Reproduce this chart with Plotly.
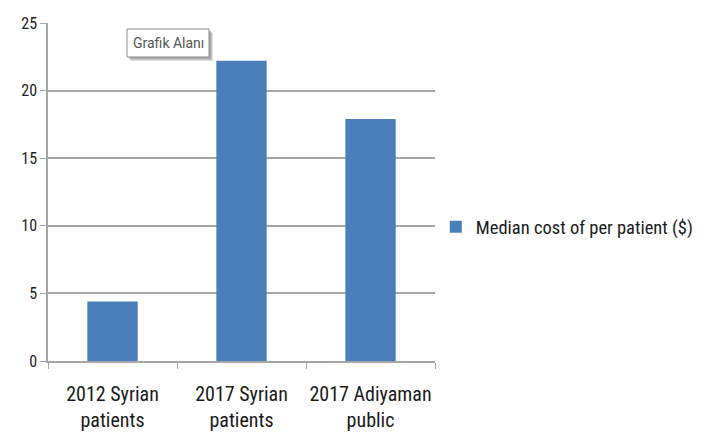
import plotly.graph_objects as go

categories = ["2012 Syrian<br>patients", "2017 Syrian<br>patients", "2017 Adiyaman<br>public"]
values = [4.4, 22.2, 17.9]
series_name = "Median cost of per patient ($)"
y_ticks = [0, 5, 10, 15, 20, 25]

# page body has an 8px margin, so the figure is drawn at (8, 8)
W, H = 701, 424
L, R, T, B = 40, 274, 15, 71
pw, ph = W - L - R, H - T - B

def px(x):
    return (x - L) / pw

def py(y):
    return (H - B - y) / ph

font = "Liberation Sans Narrow, Roboto Condensed, Arial Narrow, sans-serif"
grid = "#a6a6a6"
text = "#1a1a1a"

fig = go.Figure()
fig.add_trace(go.Bar(x=categories, y=values, name=series_name,
                     marker=dict(color="#4a7ebb", line=dict(width=0)), width=0.39))

fig.update_layout(
    width=W, height=H,
    margin=dict(l=L, r=R, t=T, b=B, autoexpand=False),
    paper_bgcolor="white", plot_bgcolor="white",
    font=dict(family=font, color=text),
    showlegend=True,
    legend=dict(x=1.002, xanchor="left", y=0.396, yanchor="middle",
                font=dict(size=18.5, family=font, color=text),
                itemwidth=30),
    xaxis=dict(showline=True, linecolor=grid, linewidth=1.5, ticks="outside",
               tickson="boundaries", ticklen=6, tickcolor=grid, tickangle=0,
               tickfont=dict(size=20, family=font, color=text),
               ticklabelstandoff=14, showgrid=False),
    yaxis=dict(range=[0, 25], tickvals=y_ticks, showline=True, linecolor=grid, linewidth=1.5,
               ticks="outside", ticklen=6, tickcolor=grid, gridcolor=grid, gridwidth=1.5,
               tickfont=dict(size=16, family=font, color="#222"), zeroline=False),
)

# tooltip "Grafik Alanı" with shadow
bx0, bx1, by0, by1 = 119, 201, 21, 49
for off, op in [(4, 0.25), (3, 0.35), (2, 0.45)]:
    fig.add_shape(type="rect", xref="paper", yref="paper",
                  x0=px(bx0 + off), x1=px(bx1 + off), y0=py(by1 + off), y1=py(by0 + off),
                  fillcolor="#8a8a8a", line=dict(width=0), opacity=op)
fig.add_shape(type="rect", xref="paper", yref="paper",
              x0=px(bx0), x1=px(bx1), y0=py(by1), y1=py(by0),
              fillcolor="white", line=dict(color="#8c8c8c", width=1))
fig.add_annotation(xref="paper", yref="paper", x=px((bx0 + bx1) / 2), y=py((by0 + by1) / 2),
                   xanchor="center", yanchor="middle",
                   text="Grafik Alanı", showarrow=False,
                   font=dict(size=14, family="Roboto, sans-serif", color="#555"))

fig.write_html("out.html")
